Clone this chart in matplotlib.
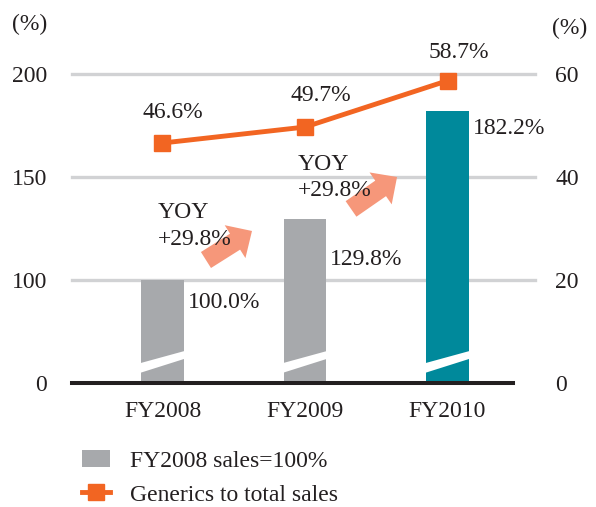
import matplotlib
matplotlib.use("Agg")
import matplotlib.pyplot as plt
from matplotlib.patches import Patch
from matplotlib.lines import Line2D

plt.rcParams['font.family'] = ['Liberation Serif', 'DejaVu Serif']

# ---------------- data ----------------
categories = ["FY2008", "FY2009", "FY2010"]
sales_index = [100.0, 129.8, 182.2]          # FY2008 sales = 100%
generics_ratio = [46.6, 49.7, 58.7]          # generics to total sales (%)
yoy_labels = ["+29.8%", "+29.8%"]
left_ticks = [50, 100, 150, 200]             # 50 = axis break shown as 0
left_ticklabels = ["0", "100", "150", "200"]
right_ticks = [0, 20, 40, 60]
legend_labels = ["FY2008 sales=100%", "Generics to total sales"]

# ---------------- style ----------------
TXT = "#231F20"
GRAY = "#A7A9AC"
TEAL = "#00899B"
ORANGE = "#F26522"
SALMON = "#F6977A"
GRID = "#D1D2D4"
FS = 17
bar_colors = [GRAY, GRAY, TEAL]
BAR_W = 0.30
BREAK = left_ticks[0]

W, H, DPI = 596, 507, 100
def pt(px):
    return px * 72.0 / DPI

fig = plt.figure(figsize=(W / DPI, H / DPI), dpi=DPI)
ax = fig.add_axes([72 / W, 1 - 383 / H, (535 - 72) / W, (383 - 74) / H])
ax2 = ax.twinx()

x = list(range(len(categories)))
ax.set_xlim(-0.635, 2.614)
ax.set_ylim(BREAK, 200)
ax2.set_ylim(0, 60)

# gridlines
for g in left_ticks[1:]:
    ax.axhline(g, color=GRID, lw=2.4, zorder=1, clip_on=False)

# bars
bars = ax.bar(x, [v - BREAK for v in sales_index], bottom=BREAK, width=BAR_W,
              color=bar_colors, zorder=2)

# break slashes (white band near bar bottoms)
for xi in x:
    x0, x1 = xi - BAR_W / 2 - 0.003, xi + BAR_W / 2 + 0.003
    ax.fill([x0, x1, x1, x0], [BREAK + 5.0, BREAK + 11.7, BREAK + 15.5, BREAK + 9.7],
            color="white", lw=0, zorder=2.5)

# baseline
ax.axhline(BREAK, xmin=0.0, xmax=0.9525, color=TXT, lw=2.9, zorder=4, clip_on=False)

# bar value labels
bar_lbl_off = [(4, -23), (4, -41), (4, -18)]
for xi, v, (dx, dy) in zip(x, sales_index, bar_lbl_off):
    ax.annotate(f"{v:.1f}%", xy=(xi + BAR_W / 2, v), xytext=(pt(dx), pt(dy)),
                textcoords="offset points", ha="left", va="center",
                fontsize=FS, color=TXT, zorder=6)

# YOY arrows
arrow_tail = [(0.305, 109.7), (1.323, 134.5)]
arrow_tip = [(0.628, 123.8), (1.646, 150.0)]
for t, h in zip(arrow_tail, arrow_tip):
    ax.annotate("", xy=h, xytext=t,
                arrowprops=dict(arrowstyle="simple,head_length=0.72,head_width=1.4,tail_width=0.68",
                                mutation_scale=20, color=SALMON, lw=0,
                                shrinkA=0, shrinkB=0), zorder=3)

# YOY texts
yoy_pos = [(-0.032, 126.2), (0.951, 149.8)]
for (px_, py_), lbl in zip(yoy_pos, yoy_labels):
    ax.text(px_, py_, "YOY\n" + lbl, ha="left", va="center", fontsize=FS,
            color=TXT, linespacing=1.32, zorder=7)

# generics line
ax2.plot(x, generics_ratio, color=ORANGE, lw=3.5, marker="s", markersize=12,
         zorder=5, clip_on=False)
line_lbl_off = [(10.5, 31), (16, 32), (11.5, 27.7)]
for xi, v, (dx, dy) in zip(x, generics_ratio, line_lbl_off):
    ax2.annotate(f"{v:.1f}%", xy=(xi, v), xytext=(pt(dx), pt(dy)),
                 textcoords="offset points", ha="center", va="center",
                 fontsize=FS, color=TXT)

# axes cosmetics
for a in (ax, ax2):
    for s in a.spines.values():
        s.set_visible(False)
ax.set_xticks(x)
ax.set_xticklabels(categories)
ax.set_yticks(left_ticks)
ax.set_yticklabels(left_ticklabels)
ax2.set_yticks(right_ticks)
ax.tick_params(axis="x", length=0, pad=13, labelsize=FS, colors=TXT)
ax.tick_params(axis="y", length=0, pad=18, labelsize=FS, colors=TXT)
ax2.tick_params(axis="y", length=0, pad=14.4, labelsize=FS, colors=TXT)

fig.text(30 / W, 1 - 24 / H, "(%)", ha="center", va="center", fontsize=FS, color=TXT)
fig.text(570 / W, 1 - 28 / H, "(%)", ha="center", va="center", fontsize=FS, color=TXT)

# legend
handles = [Patch(facecolor=GRAY, edgecolor="none"),
           Line2D([], [], color=ORANGE, lw=3.5, marker="s", markersize=11)]
fig.legend(handles, legend_labels, loc="upper left",
           bbox_to_anchor=(82 / W, 1 - 450 / H), frameon=False, fontsize=FS,
           handlelength=1.19, handletextpad=0.85, labelspacing=0.53,
           borderpad=0, borderaxespad=0, labelcolor=TXT)

fig.savefig("out.png", dpi=DPI)
